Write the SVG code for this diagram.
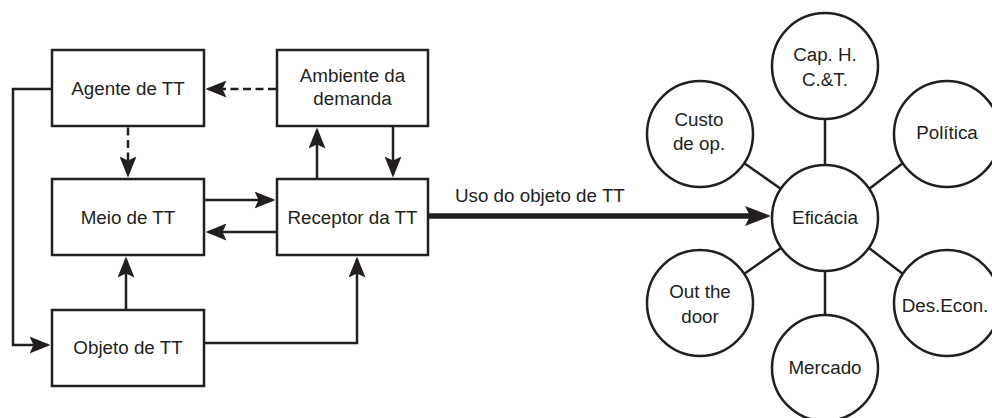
<svg xmlns="http://www.w3.org/2000/svg" width="992" height="418" viewBox="0 0 992 418">
<style>
.box{fill:#fff;stroke:#231f20;stroke-width:2.5}
.node{fill:#fff;stroke:#231f20;stroke-width:2.5}
.t{font-family:"Liberation Sans",Arial,sans-serif;font-size:18.8px;fill:#231f20;text-anchor:middle}
.c{fill:none;stroke:#231f20;stroke-width:2.5}
.d{stroke-dasharray:8 4.5}
.thick{fill:none;stroke:#231f20;stroke-width:5.5}
.spoke{stroke:#231f20;stroke-width:2.5}
</style>
<defs>
<marker id="ah" viewBox="0 0 21 17" refX="18" refY="8.5" markerWidth="21" markerHeight="17" markerUnits="userSpaceOnUse" orient="auto">
<path d="M0,0 L21,8.5 L0,17 L4,8.5 Z" fill="#231f20"/>
</marker>
<marker id="ahb" viewBox="0 0 26 20" refX="18" refY="10" markerWidth="26" markerHeight="20" markerUnits="userSpaceOnUse" orient="auto">
<path d="M0,0 L26,10 L0,20 L5,10 Z" fill="#231f20"/>
</marker>
</defs>
<rect width="992" height="418" fill="#fff"/>
<g id="connectors">
<line class="c d" x1="276" y1="89" x2="208.5" y2="89" marker-end="url(#ah)"/>
<line class="c d" x1="128" y1="127.5" x2="128" y2="174.5" marker-end="url(#ah)"/>
<line class="c" x1="317" y1="178" x2="317" y2="130.5" marker-end="url(#ah)"/>
<line class="c" x1="393" y1="127" x2="393" y2="174.5" marker-end="url(#ah)"/>
<line class="c" x1="205" y1="200" x2="272.5" y2="200" marker-end="url(#ah)"/>
<line class="c" x1="276" y1="232" x2="208.5" y2="232" marker-end="url(#ah)"/>
<line class="c" x1="126" y1="309" x2="126" y2="259.5" marker-end="url(#ah)"/>
<polyline class="c" points="205,343 357,343 357,259.5" marker-end="url(#ah)"/>
<polyline class="c" points="51,89 13,89 13,345 47.5,345" marker-end="url(#ah)"/>
<line class="thick" x1="429" y1="216" x2="763" y2="216" marker-end="url(#ahb)"/>
<line class="spoke" x1="825" y1="120" x2="825" y2="165"/>
<line class="spoke" x1="825" y1="271" x2="825" y2="315"/>
<line class="spoke" x1="744" y1="163" x2="781" y2="189"/>
<line class="spoke" x1="903" y1="163" x2="869" y2="189"/>
<line class="spoke" x1="744" y1="274" x2="781" y2="248"/>
<line class="spoke" x1="903" y1="274" x2="869" y2="248"/>
</g>
<g id="agente"><rect class="box" x="52" y="50" width="152" height="76"/><text class="t" x="128" y="95">Agente de TT</text></g>
<g id="ambiente"><rect class="box" x="277" y="50" width="151" height="76"/><text class="t" x="352.5" y="82">Ambiente da</text><text class="t" x="352.5" y="105">demanda</text></g>
<g id="meio"><rect class="box" x="52" y="179" width="152" height="76"/><text class="t" x="128" y="224">Meio de TT</text></g>
<g id="receptor"><rect class="box" x="277" y="179" width="151" height="76"/><text class="t" x="352.5" y="224">Receptor da TT</text></g>
<g id="objeto"><rect class="box" x="52" y="310" width="152" height="76"/><text class="t" x="128" y="354">Objeto de TT</text></g>
<g id="uso-label"><text class="t" x="455" y="202" style="text-anchor:start">Uso do objeto de TT</text></g>
<g id="eficacia"><circle class="node" cx="825" cy="218" r="53"/><text class="t" x="825" y="224">Eficácia</text></g>
<g id="cap"><circle class="node" cx="825" cy="66" r="53"/><text class="t" x="825" y="61">Cap. H.</text><text class="t" x="825" y="86">C.&amp;T.</text></g>
<g id="custo"><circle class="node" cx="700" cy="134" r="53"/><text class="t" x="699" y="126">Custo</text><text class="t" x="699" y="150">de op.</text></g>
<g id="politica"><circle class="node" cx="947" cy="134" r="53"/><text class="t" x="947" y="139">Política</text></g>
<g id="out"><circle class="node" cx="700" cy="303" r="53"/><text class="t" x="700" y="298">Out the</text><text class="t" x="700" y="323">door</text></g>
<g id="des"><circle class="node" cx="947" cy="303" r="53"/><text class="t" x="945" y="312">Des.Econ.</text></g>
<g id="mercado"><circle class="node" cx="825" cy="368" r="53"/><text class="t" x="825" y="374">Mercado</text></g>
</svg>
